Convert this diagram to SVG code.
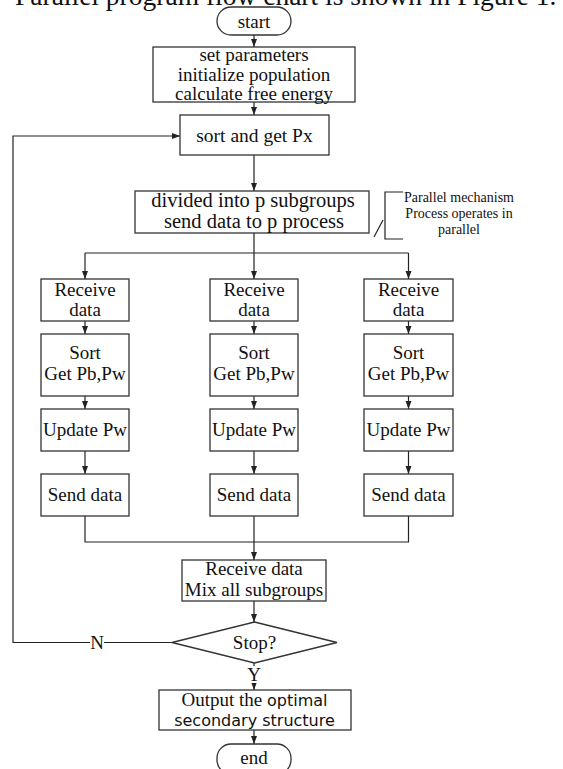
<svg xmlns="http://www.w3.org/2000/svg" width="563" height="769" viewBox="0 0 563 769">
<style>
  .box { fill: #fff; stroke: #333; stroke-width: 1.3; }
  .ln { fill: none; stroke: #222; stroke-width: 1.2; }
  .t { font-family: "Liberation Serif", "Times New Roman", serif; font-size: 19px; fill: #111; text-anchor: middle; }
  .s { font-family: "DejaVu Sans", sans-serif; font-size: 16px; }
  .big { font-size: 20.5px; }
  .note { font-family: "Liberation Serif", "Times New Roman", serif; font-size: 14px; fill: #111; text-anchor: middle; }
</style>
<defs>
  <marker id="ah" markerUnits="userSpaceOnUse" markerWidth="8" markerHeight="8" viewBox="0 0 8 8" refX="8" refY="4" orient="auto">
    <path d="M0,1 L8,4 L0,7 Z" fill="#222"/>
  </marker>
</defs>
<rect width="563" height="769" fill="#fff"/>
<text x="15" y="5" font-family="Liberation Serif, serif" font-size="27.5" fill="#111">Parallel program flow chart is shown in Figure 1.</text>

<g id="connectors">
  <line class="ln" x1="254" y1="35" x2="254" y2="47" marker-end="url(#ah)"/>
  <line class="ln" x1="254" y1="102" x2="254" y2="115" marker-end="url(#ah)"/>
  <line class="ln" x1="254" y1="155" x2="254" y2="191" marker-end="url(#ah)"/>
  <line class="ln" x1="254" y1="233" x2="254" y2="253"/>
  <line class="ln" x1="85" y1="253" x2="408.5" y2="253"/>
  <line class="ln" x1="85" y1="253" x2="85" y2="279" marker-end="url(#ah)"/>
  <line class="ln" x1="254" y1="253" x2="254" y2="279" marker-end="url(#ah)"/>
  <line class="ln" x1="408.5" y1="253" x2="408.5" y2="279" marker-end="url(#ah)"/>
  <line class="ln" x1="85" y1="321" x2="85" y2="334" marker-end="url(#ah)"/>
  <line class="ln" x1="254" y1="321" x2="254" y2="334" marker-end="url(#ah)"/>
  <line class="ln" x1="408.5" y1="321" x2="408.5" y2="334" marker-end="url(#ah)"/>
  <line class="ln" x1="85" y1="396" x2="85" y2="409" marker-end="url(#ah)"/>
  <line class="ln" x1="254" y1="396" x2="254" y2="409" marker-end="url(#ah)"/>
  <line class="ln" x1="408.5" y1="396" x2="408.5" y2="409" marker-end="url(#ah)"/>
  <line class="ln" x1="85" y1="451" x2="85" y2="474" marker-end="url(#ah)"/>
  <line class="ln" x1="254" y1="451" x2="254" y2="474" marker-end="url(#ah)"/>
  <line class="ln" x1="408.5" y1="451" x2="408.5" y2="474" marker-end="url(#ah)"/>
  <path class="ln" d="M85,516 V542 H408.5 V516"/>
  <line class="ln" x1="254" y1="516" x2="254" y2="560" marker-end="url(#ah)"/>
  <line class="ln" x1="254" y1="601" x2="254" y2="622" marker-end="url(#ah)"/>
  <path class="ln" d="M172,642.5 H13 V136 H180" marker-end="url(#ah)"/>
  <line class="ln" x1="254" y1="663" x2="254" y2="690" marker-end="url(#ah)"/>
  <line class="ln" x1="254" y1="730" x2="254" y2="744" marker-end="url(#ah)"/>
  <rect x="90" y="634" width="14" height="16" fill="#fff"/>
  <text class="t" x="97" y="649">N</text>
  <rect x="247" y="666" width="14" height="17" fill="#fff"/>
  <text class="t" x="254" y="681">Y</text>
</g>

<g id="start">
  <rect class="box" x="217" y="7" width="74" height="28" rx="14"/>
  <text class="t" x="254" y="28">start</text>
</g>
<g id="init">
  <rect class="box" x="153" y="47" width="202" height="55"/>
  <text class="t" x="254" y="61">set parameters</text>
  <text class="t" x="254" y="81">initialize population</text>
  <text class="t" x="254" y="100">calculate free energy</text>
</g>
<g id="sortPx">
  <rect class="box" x="180" y="115" width="149" height="40"/>
  <text class="t" x="254.5" y="142" style="font-size:19.5px">sort and get Px</text>
</g>
<g id="divide">
  <rect class="box" x="135" y="191" width="234" height="42"/>
  <text class="t big" x="253" y="207">divided into p subgroups</text>
  <text class="t big" x="254" y="228">send data to p process</text>
</g>
<g id="note">
  <path class="ln" d="M403,192 H385 V239 H403"/>
  <line class="ln" x1="374" y1="237" x2="383" y2="220"/>
  <text class="note" x="459" y="202">Parallel mechanism</text>
  <text class="note" x="459" y="218">Process operates in</text>
  <text class="note" x="459" y="234">parallel</text>
</g>

<g id="recv1"><rect class="box" x="41" y="279" width="88" height="42"/><text class="t" x="85" y="296">Receive</text><text class="t" x="85" y="316">data</text></g>
<g id="recv2"><rect class="box" x="210" y="279" width="88" height="42"/><text class="t" x="254" y="296">Receive</text><text class="t" x="254" y="316">data</text></g>
<g id="recv3"><rect class="box" x="364" y="279" width="89" height="42"/><text class="t" x="408.5" y="296">Receive</text><text class="t" x="408.5" y="316">data</text></g>

<g id="sort1"><rect class="box" x="41" y="334" width="88" height="62"/><text class="t" x="85" y="359">Sort</text><text class="t" x="85" y="380">Get Pb,Pw</text></g>
<g id="sort2"><rect class="box" x="210" y="334" width="88" height="62"/><text class="t" x="254" y="359">Sort</text><text class="t" x="254" y="380">Get Pb,Pw</text></g>
<g id="sort3"><rect class="box" x="364" y="334" width="89" height="62"/><text class="t" x="408.5" y="359">Sort</text><text class="t" x="408.5" y="380">Get Pb,Pw</text></g>

<g id="upd1"><rect class="box" x="41" y="409" width="88" height="42"/><text class="t" x="85" y="436">Update Pw</text></g>
<g id="upd2"><rect class="box" x="210" y="409" width="88" height="42"/><text class="t" x="254" y="436">Update Pw</text></g>
<g id="upd3"><rect class="box" x="364" y="409" width="89" height="42"/><text class="t" x="408.5" y="436">Update Pw</text></g>

<g id="send1"><rect class="box" x="41" y="474" width="88" height="42"/><text class="t" x="85" y="501">Send data</text></g>
<g id="send2"><rect class="box" x="210" y="474" width="88" height="42"/><text class="t" x="254" y="501">Send data</text></g>
<g id="send3"><rect class="box" x="364" y="474" width="89" height="42"/><text class="t" x="408.5" y="501">Send data</text></g>

<g id="mix">
  <rect class="box" x="182" y="560" width="144" height="41"/>
  <text class="t" x="254" y="575">Receive data</text>
  <text class="t" x="254" y="596">Mix all subgroups</text>
</g>
<g id="stop">
  <polygon class="box" points="254.5,622 337,642.5 254.5,663 172,642.5"/>
  <text class="t" x="254.5" y="649">Stop?</text>
</g>
<g id="output">
  <rect class="box" x="159" y="690" width="192" height="40"/>
  <text class="t" x="254.5" y="706">Output the <tspan class="s">optimal</tspan></text>
  <text class="t s" x="254.5" y="726">secondary structure</text>
</g>
<g id="end">
  <rect class="box" x="217" y="744" width="74" height="30" rx="14"/>
  <text class="t" x="254" y="764">end</text>
</g>
</svg>
